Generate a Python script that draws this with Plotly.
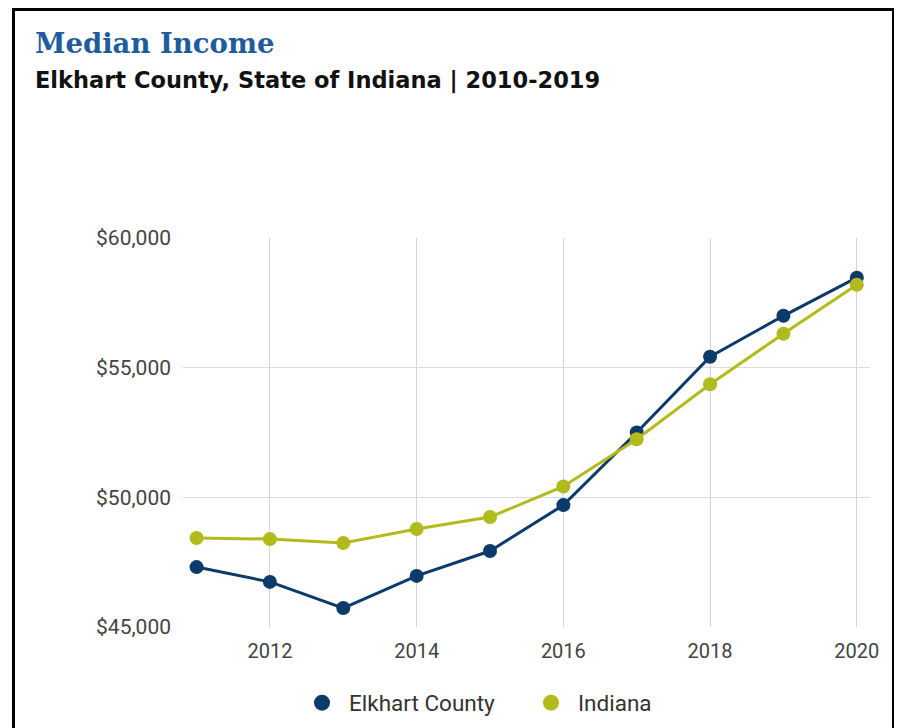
import plotly.graph_objects as go

years = [2011, 2012, 2013, 2014, 2015, 2016, 2017, 2018, 2019, 2020]
elkhart = [47310, 46740, 45730, 46970, 47930, 49700, 52500, 55420, 57000, 58470]
indiana = [48430, 48390, 48240, 48780, 49240, 50420, 52240, 54360, 56310, 58200]
series_names = ["Elkhart County", "Indiana"]
colors = ["#0b3a6b", "#b3bb1c"]
y_ticks = [45000, 50000, 55000, 60000]
y_tick_labels = ["$45,000", "$50,000", "$55,000", "$60,000"]
x_ticks = [2012, 2014, 2016, 2018, 2020]

OFF = 8  # page body margin
W, H = 902 - OFF, 728 - OFF
L, R, T, B = 183 - OFF, 32, 238 - OFF, 101
pw, ph = W - L - R, H - T - B

def px(x):
    return (x - OFF - L) / pw

def py(y):
    return (H - B - (y - OFF)) / ph

fig = go.Figure()
for name, vals, c in zip(series_names, [elkhart, indiana], colors):
    fig.add_trace(go.Scatter(
        x=years, y=vals, mode="lines+markers", name=name,
        line=dict(color=c, width=3), marker=dict(color=c, size=14),
        showlegend=False))
for name, c in zip(series_names, colors):
    fig.add_trace(go.Scatter(
        x=[None], y=[None], mode="markers", name=name,
        marker=dict(color=c, size=21), showlegend=True))

fig.update_layout(
    width=W, height=H,
    margin=dict(l=L, r=R, t=T, b=B, autoexpand=False),
    paper_bgcolor="white", plot_bgcolor="white",
    font=dict(family="Roboto, Liberation Sans, sans-serif", color="#444444", size=20),
    xaxis=dict(range=[2010.815, 2020.18], tickvals=x_ticks, showgrid=True,
               gridcolor="#d4d4d4", gridwidth=1, zeroline=False, showline=False,
               ticks="", ticklabelstandoff=10),
    yaxis=dict(range=[45000, 60000], tickvals=y_ticks, ticktext=y_tick_labels,
               showgrid=True, gridcolor="#dcdcdc",
               zeroline=False, showline=False, ticks="", ticklabelstandoff=11,
               tickfont=dict(size=21)),
    legend=dict(orientation="h", x=px(295), xanchor="left", y=py(703), yanchor="middle",
                font=dict(size=22.5, color="#333333"), itemwidth=44,
                entrywidth=170, bgcolor="rgba(0,0,0,0)"),
    shapes=[dict(type="rect", xref="paper", yref="paper",
                 x0=px(13.5), x1=px(893.5), y0=py(760), y1=py(9.5),
                 line=dict(color="black", width=3), fillcolor="rgba(0,0,0,0)",
                 layer="above")],
    annotations=[
        dict(text="<b>Median Income</b>", xref="paper", yref="paper",
             x=px(33), y=py(43), xanchor="left", yanchor="middle", showarrow=False,
             font=dict(family="DejaVu Serif, Liberation Serif, serif", size=27.5, color="#1f5c9e")),
        dict(text="<b>Elkhart County, State of Indiana | 2010-2019</b>", xref="paper", yref="paper",
             x=px(33), y=py(81), xanchor="left", yanchor="middle", showarrow=False,
             font=dict(family="DejaVu Sans, sans-serif", size=22.5, color="#111111")),
    ],
)

fig.write_html("out.html")
